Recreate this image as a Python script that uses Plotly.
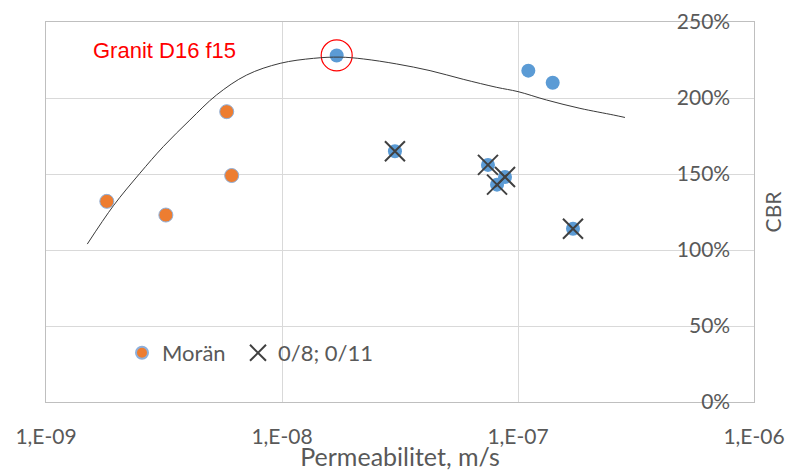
import plotly.graph_objects as go

# Morän samples: permeability (m/s) and CBR (fraction, shown as %)
moran_k = [1.81e-9, 3.22e-9, 5.83e-9, 6.12e-9]
moran_cbr = [1.32, 1.23, 1.91, 1.49]

# Granite D16 f15 samples
granit_k = [1.705e-8, 1.106e-7, 1.403e-7, 3.01e-8, 7.46e-8, 8.81e-8, 8.15e-8, 1.71e-7]
granit_cbr = [2.28, 2.18, 2.10, 1.65, 1.56, 1.48, 1.43, 1.14]
# samples with 0/8 or 0/11 grading (crossed markers)
graded = [False, False, False, True, True, True, True, True]
# highlighted sample (red ring)
highlight = 0

# trend curve read along its path
trend_k = [1.496e-9, 1.93e-9, 2.50e-9, 3.14e-9, 4.07e-9, 5.28e-9, 7.08e-9, 9.82e-9,
           1.36e-8, 1.76e-8, 2.21e-8, 3.06e-8, 4.24e-8, 5.86e-8, 8.13e-8, 1.00e-7,
           1.32e-7, 1.83e-7, 2.54e-7, 2.84e-7]
trend_cbr = [1.039, 1.291, 1.505, 1.680, 1.855, 2.020, 2.151, 2.228,
             2.261, 2.269, 2.257, 2.224, 2.180, 2.123, 2.070, 2.042,
             1.987, 1.932, 1.888, 1.872]

x_tickvals = [1e-9, 1e-8, 1e-7, 1e-6]
x_ticktext = ["1,E-09", "1,E-08", "1,E-07", "1,E-06"]

TEXT = "#595959"
GRID = "#D9D9D9"
AXIS = "#BFBFBF"
FONT = "Lato"

# plot area in pixels
L, R, T, B = 46, 754, 22, 402
W, H = 792, 471


def px_x(p):
    return (p - L) / (R - L)


def px_y(p):
    return (B - p) / (B - T)


fig = go.Figure()

fig.add_trace(go.Scatter(
    x=moran_k, y=moran_cbr, mode="markers", name="Morän", legend="legend",
    marker=dict(color="#ED7D31", size=14, line=dict(color="#8DB0DC", width=1)),
))

fig.add_trace(go.Scatter(
    x=granit_k, y=granit_cbr, mode="markers", name="Granit D16 f15",
    showlegend=False,
    marker=dict(color="#5B9BD5", size=14, line=dict(width=0)),
))

gk = [k for k, g in zip(granit_k, graded) if g]
gc = [c for c, g in zip(granit_cbr, graded) if g]
fig.add_trace(go.Scatter(
    x=gk, y=gc, mode="markers", name="0/8; 0/11", legend="legend2",
    marker=dict(symbol="x-thin-open", size=20, color="#404040",
                line=dict(color="#404040", width=2)),
))

fig.add_trace(go.Scatter(
    x=[granit_k[highlight]], y=[granit_cbr[highlight]], mode="markers",
    showlegend=False, hoverinfo="skip",
    marker=dict(symbol="circle-open", size=31, color="#FF0000",
                line=dict(color="#FF0000", width=1.2)),
))

fig.add_trace(go.Scatter(
    x=trend_k, y=trend_cbr, mode="lines", showlegend=False, hoverinfo="skip",
    line=dict(color="#3A3A3A", width=1, shape="spline", smoothing=1.0),
))

fig.add_annotation(
    text="Granit D16 f15", xref="paper", yref="paper",
    x=px_x(164), y=px_y(50), xanchor="center", yanchor="middle",
    showarrow=False, font=dict(family="Liberation Sans", size=22, color="#FF0000"),
)

legend_style = dict(
    orientation="h", xanchor="left", yanchor="middle",
    bgcolor="rgba(0,0,0,0)", font=dict(family=FONT, size=22, color=TEXT),
)

fig.update_layout(
    width=W, height=H,
    margin=dict(l=L, r=W - R, t=T, b=H - B),
    paper_bgcolor="white", plot_bgcolor="white",
    font=dict(family=FONT, color=TEXT, size=21),
    xaxis=dict(
        type="log", range=[-9.00001, -5.99999], automargin=False,
        tickvals=x_tickvals, ticktext=x_ticktext,
        showgrid=True, gridcolor=GRID, gridwidth=1,
        showline=True, linecolor=AXIS, linewidth=1, mirror=True,
        ticks="", ticklabelstandoff=16, ticklabeloverflow="allow",
        tickfont=dict(size=21, color=TEXT),
        title=dict(text="Permeabilitet, m/s", font=dict(size=25, color=TEXT), standoff=0),
    ),
    yaxis=dict(
        side="right", range=[0, 2.5], dtick=0.5, tickformat=".0%", automargin=False,
        showgrid=True, gridcolor=GRID, gridwidth=1,
        showline=True, linecolor=AXIS, linewidth=1, mirror=True,
        zeroline=False,
        ticks="inside", ticklen=25, tickcolor="rgba(0,0,0,0)",
        ticklabelposition="inside", ticklabelstandoff=0,
        ticklabeloverflow="allow",
        tickfont=dict(size=21, color=TEXT),
        title=dict(text="CBR", font=dict(size=21, color=TEXT), standoff=37),
    ),
    legend=dict(x=px_x(122), y=px_y(353), itemsizing="constant", **legend_style),
    legend2=dict(x=px_x(238), y=px_y(353), **legend_style),
    showlegend=True,
)

fig.write_html("out.html")
